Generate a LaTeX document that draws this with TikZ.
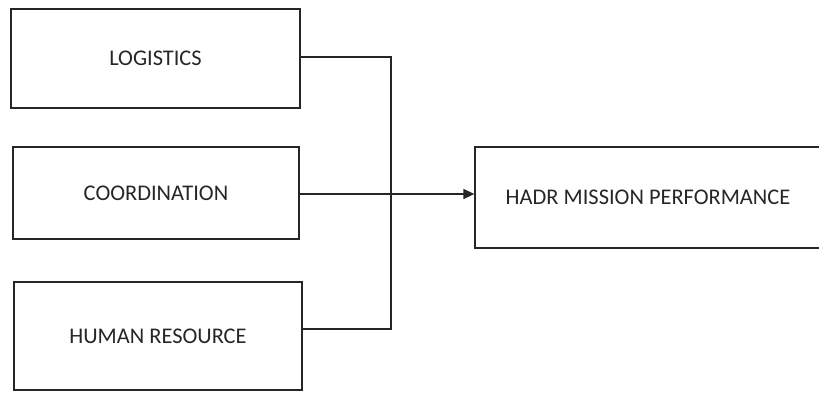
\documentclass[tikz,border=0pt]{standalone}
\usepackage{fontspec}
\setmainfont{Carlito}
\usepackage{tikz}
\usetikzlibrary{arrows.meta}

\begin{document}
\begin{tikzpicture}[x=1pt,y=-1pt,>={Triangle[length=11pt,width=10pt]},
  line width=1.3pt,
  factor/.style={draw=black!85,line width=1.3pt,inner sep=0pt,
    font=\fontsize{22.4}{27}\selectfont,text=black!85}]
  \useasboundingbox (0,0) rectangle (819,392);
  \node[factor,minimum width=289pt,minimum height=99pt] (logi) at (155.5,58.5) {LOGISTICS};
  \node[factor,minimum width=286pt,minimum height=92pt] (coord) at (156,193) {COORDINATION};
  \node[factor,minimum width=288pt,minimum height=108pt] (human) at (158,336) {HUMAN RESOURCE};
  \node[factor,minimum width=346pt,minimum height=101pt] (hadr) at (648,197.5) {HADR MISSION PERFORMANCE};
  \coordinate (jtop) at (391,57);
  \coordinate (jbot) at (391,329);
  \draw[black!85] (logi.east |- jtop) -- (jtop) -- (jbot) -- (human.east |- jbot);
  \draw[->,black!85] (coord.east |- 0,194) -- (hadr.west |- 0,194);
\end{tikzpicture}
\end{document}
